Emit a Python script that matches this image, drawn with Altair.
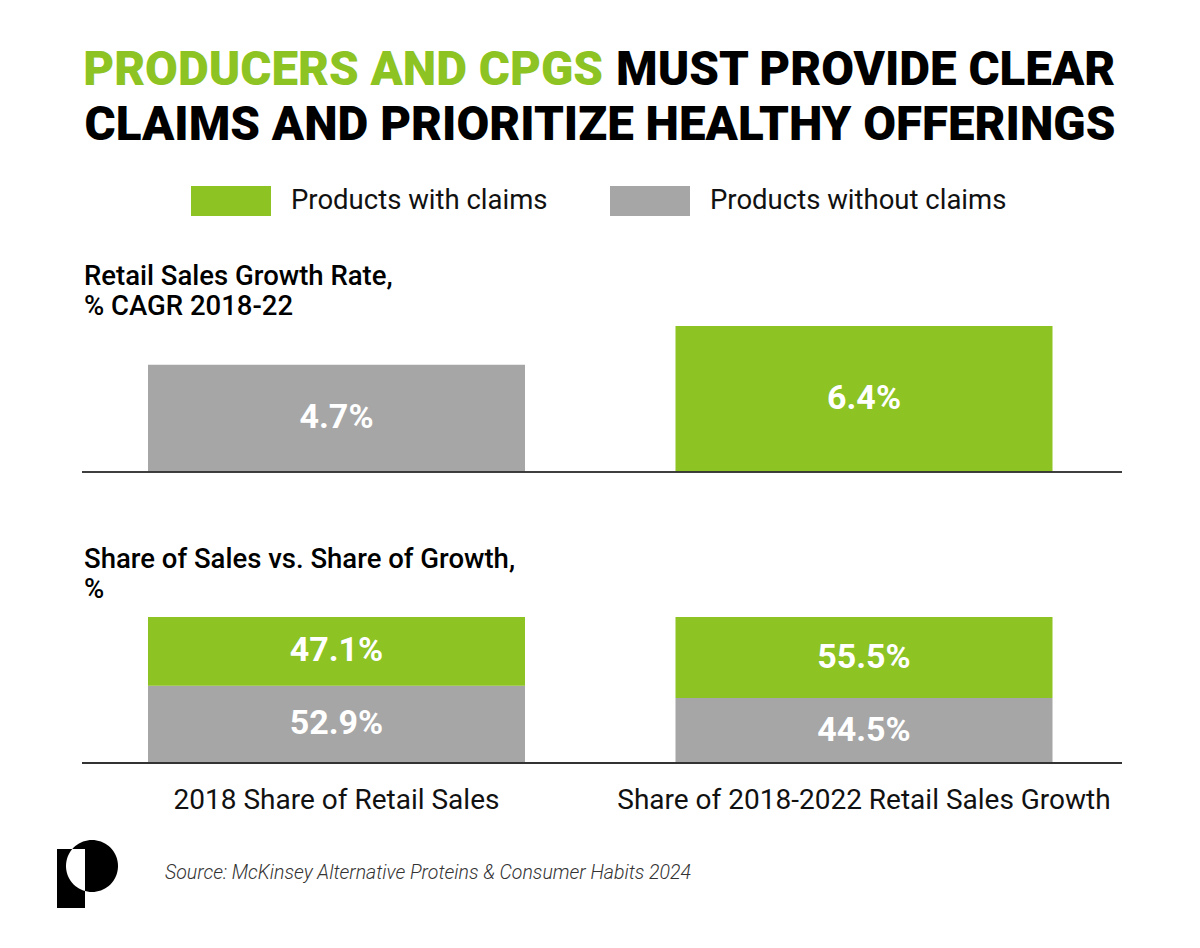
import math
import altair as alt
import pandas as pd

# ---------------- data ----------------
title_green = ["PRODUCERS AND CPGS"]
title_black = ["MUST PROVIDE CLEAR"]
title_line2 = ["CLAIMS AND PRIORITIZE HEALTHY OFFERINGS"]

series = ["Products with claims", "Products without claims"]
series_colors = ["#8DC322", "#A6A6A6"]

growth_title = ["Retail Sales Growth Rate,", "% CAGR 2018-22"]
growth_series = ["Products without claims", "Products with claims"]
growth_values = [4.7, 6.4]

share_title = ["Share of Sales vs. Share of Growth,", "%"]
share_categories = ["2018 Share of Retail Sales", "Share of 2018-2022 Retail Sales Growth"]
share_with = [47.1, 55.5]
share_without = [52.9, 44.5]

source_text = ["Source: McKinsey Alternative Proteins & Consumer Habits 2024"]

# ---------------- tables ----------------
top_df = pd.DataFrame({"slot": [0, 1], "series": growth_series, "value": growth_values})
bot_rows = []
for i, cat in enumerate(share_categories):
    bot_rows.append({"slot": i, "cat": cat, "series": series[1], "share": share_without[i], "rank": 0})
    bot_rows.append({"slot": i, "cat": cat, "series": series[0], "share": share_with[i], "rank": 1})
bot_df = pd.DataFrame(bot_rows)
cat_df = pd.DataFrame({"slot": [0, 1], "cat": share_categories})

FONT = "Roboto"
TITLE_FONT = "Roboto"

x_scale = alt.Scale(domain=[0, 1], range=[72.75, 1127.75], paddingInner=0.2853, paddingOuter=0.14265)
top_y = alt.Scale(domain=[0, 6.4], range=[472, 326], zero=True, nice=False)
bot_y = alt.Scale(domain=[0, 1], range=[763, 617], zero=True, nice=False)
color_scale = alt.Scale(domain=series, range=series_colors)

X = alt.X("slot:O", scale=x_scale, axis=None)

legend = alt.Legend(
    orient="none", legendX=191, legendY=161, direction="horizontal", title=None,
    symbolType="M-1,-0.375L1,-0.375L1,0.375L-1,0.375Z", symbolSize=6400,
    symbolStrokeWidth=0, symbolOpacity=1, labelFontSize=27.5, labelFont=FONT,
    labelColor="#111111", labelOffset=20, columnPadding=62, labelLimit=500,
)

# top bars
top_bars = alt.Chart(top_df).mark_bar().encode(
    x=X,
    y=alt.Y("value:Q", scale=top_y, axis=None),
    color=alt.Color("series:N", scale=color_scale, legend=legend),
)
top_text = alt.Chart(top_df).transform_calculate(
    mid="datum.value / 2", label="format(datum.value, '.1f') + '%'"
).mark_text(font=FONT, fontSize=34, fontWeight="bold", color="white", baseline="middle").encode(
    x=X, y=alt.Y("mid:Q", scale=top_y, axis=None), text="label:N"
)
top_rule = alt.Chart(top_df).mark_rule(color="#333333", strokeWidth=1.5).encode(
    x=alt.value(82), x2=alt.value(1122), y=alt.YDatum(0, scale=top_y, axis=None)
)

# bottom stacked bars
stacked = alt.Chart(bot_df).transform_stack(
    stack="share", groupby=["slot"], as_=["v0", "v1"], offset="normalize",
    sort=[alt.SortField("rank", order="ascending")],
).transform_calculate(
    mid="(datum.v0 + datum.v1) / 2", label="format(datum.share, '.1f') + '%'"
)
bot_bars = stacked.mark_bar().encode(
    x=X,
    y=alt.Y("v0:Q", scale=bot_y, axis=None),
    y2="v1:Q",
    color=alt.Color("series:N", scale=color_scale, legend=None),
)
bot_text = stacked.mark_text(font=FONT, fontSize=34, fontWeight="bold", color="white", baseline="middle").encode(
    x=X, y=alt.Y("mid:Q", scale=bot_y, axis=None), text="label:N"
)
bot_rule = alt.Chart(bot_df).mark_rule(color="#333333", strokeWidth=1.5).encode(
    x=alt.value(82), x2=alt.value(1122), y=alt.YDatum(0, scale=bot_y, axis=None)
)
cat_labels = alt.Chart(cat_df).mark_text(font=FONT, fontSize=28, color="#111111", baseline="middle").encode(
    x=X, y=alt.value(801), text="cat:N"
)

# titles
t_green = alt.Chart(pd.DataFrame({"t": title_green})).mark_text(
    font=TITLE_FONT, fontSize=47.5, fontWeight=900, color="#8DC322", align="right", baseline="alphabetic"
).encode(x=alt.value(603), y=alt.value(85), text="t:N")
t_black = alt.Chart(pd.DataFrame({"t": title_black})).mark_text(
    font=TITLE_FONT, fontSize=47.5, fontWeight=900, color="#000000", align="left", baseline="alphabetic"
).encode(x=alt.value(616), y=alt.value(85), text="t:N")
t_line2 = alt.Chart(pd.DataFrame({"t": title_line2})).mark_text(
    font=TITLE_FONT, fontSize=47.5, fontWeight=900, color="#000000", align="center", baseline="alphabetic"
).encode(x=alt.value(600), y=alt.value(140), text="t:N")

sec1 = alt.Chart(pd.DataFrame({"t": [0]})).mark_text(
    font=FONT, fontSize=27.5, fontWeight=500, color="#000000", align="left", baseline="alphabetic", lineHeight=30
).encode(x=alt.value(84), y=alt.value(285), text=alt.value(growth_title))
sec2 = alt.Chart(pd.DataFrame({"t": [0]})).mark_text(
    font=FONT, fontSize=27.5, fontWeight=500, color="#000000", align="left", baseline="alphabetic", lineHeight=30
).encode(x=alt.value(84), y=alt.value(568), text=alt.value(share_title))

source = alt.Chart(pd.DataFrame({"t": source_text})).mark_text(
    font=FONT, fontSize=19.5, fontStyle="italic", fontWeight=300, color="#333333", align="left", baseline="middle"
).encode(x=alt.value(165), y=alt.value(873), text="t:N")

# logo: circle (clockwise) + stem (counter-clockwise) -> overlap left white
pts = []
for k in range(0, 72):
    a = 2 * math.pi * k / 72
    pts.append(f"{math.cos(a):.4f},{math.sin(a):.4f}")
circle_path = "M" + "L".join(pts) + "Z"
stem_path = "M-1.346,-0.654L-1.346,1.615L-0.269,1.615L-0.269,-0.654Z"
logo = alt.Chart(pd.DataFrame({"t": [0]})).mark_point(
    shape=circle_path + stem_path, filled=True, color="#000000", size=2704, opacity=1, strokeWidth=0
).encode(x=alt.value(92), y=alt.value(866))

chart = alt.layer(
    top_bars, top_text, top_rule, bot_bars, bot_text, bot_rule, cat_labels,
    t_green, t_black, t_line2, sec1, sec2, source, logo,
).resolve_scale(y="independent").properties(
    width=1200, height=948, autosize=alt.AutoSizeParams(type="none"), padding=0, background="white"
).configure_view(stroke=None)

chart.save("out.html", embed_options={"renderer": "svg", "actions": False})
